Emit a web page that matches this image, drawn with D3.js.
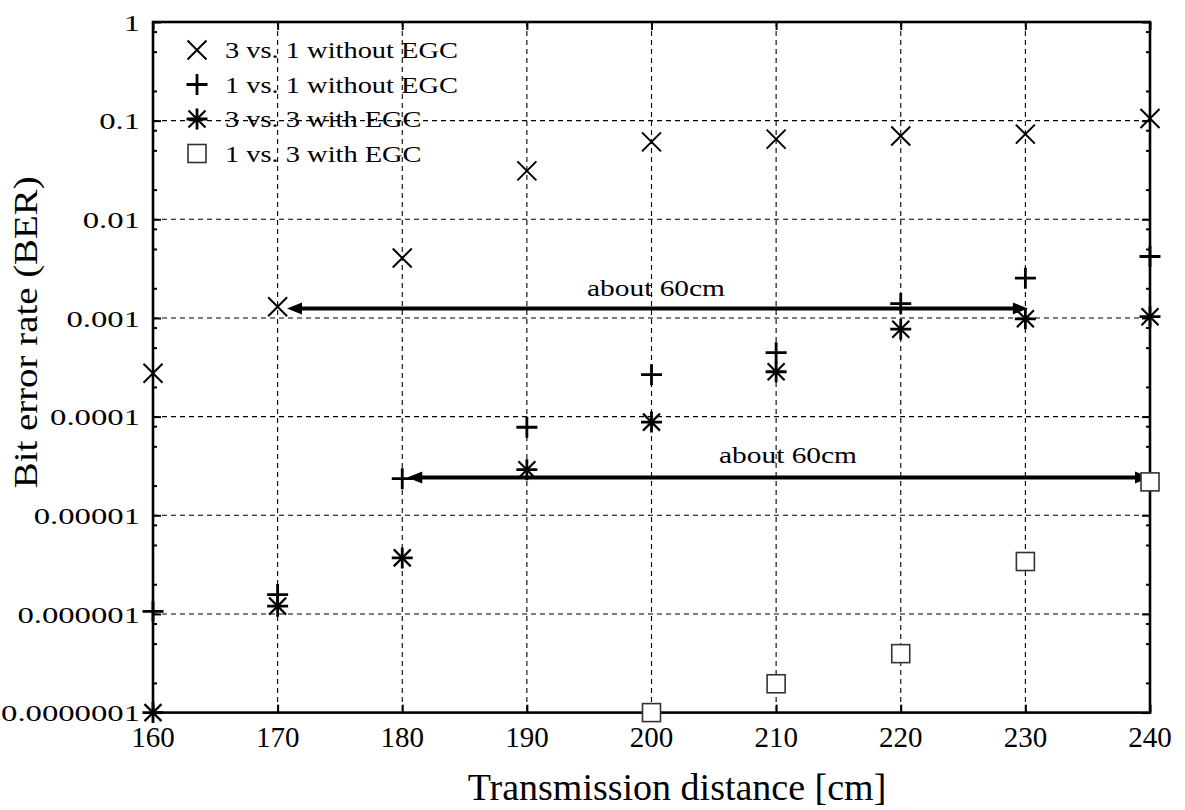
<!DOCTYPE html>
<html>
<head>
<meta charset="utf-8">
<script src="https://cdn.jsdelivr.net/npm/d3@7"></script>
<style>
  body { margin: 0; background: #fff; }
  svg { display: block; }
  text { font-family: "Liberation Serif", "Times New Roman", serif; fill: #000; }
</style>
</head>
<body>
<svg id="chart" width="1185" height="810"></svg>
<script>
// distances in cm
const distances = [160, 170, 180, 190, 200, 210, 220, 230, 240];
const ber3vs1 = [2.75e-4, 1.3e-3, 4.05e-3, 0.031, 0.061, 0.065, 0.07, 0.073, 0.105];
const ber1vs1 = [1.06e-6, 1.57e-6, 2.35e-5, 7.8e-5, 2.66e-4, 4.45e-4, 1.4e-3, 2.53e-3, 4.2e-3];
const ber3vs3 = [1e-7, 1.2e-6, 3.7e-6, 2.9e-5, 8.8e-5, 2.85e-4, 7.7e-4, 9.8e-4, 1.03e-3];
const dist1vs3 = [200, 210, 220, 230, 240];
const ber1vs3 = [1e-7, 1.96e-7, 3.96e-7, 3.4e-6, 2.18e-5];

const xTicks = [160, 170, 180, 190, 200, 210, 220, 230, 240];
const yTicks = [1, 0.1, 0.01, 0.001, 0.0001, 0.00001, 0.000001, 0.0000001];
const yTickLabels = ['1', '0.1', '0.01', '0.001', '0.0001', '0.00001', '0.000001', '0.0000001'];
const yMinorMult = [2, 5, 8];

const legendLabels = ['3 vs. 1 without EGC', '1 vs. 1 without EGC', '3 vs. 3 with EGC', '1 vs. 3 with EGC'];
const legendSymbols = ['cross', 'plus', 'star', 'square'];

// "about 60cm" arrows: [fromX, toX, y]
const arrows = [
  [170.75, 230.2, 1.25e-3],
  [180.4, 240, 2.42e-5]
];
const arrowLabel = 'about 60cm';

const width = 1185;
const height = 810;
const margin = { top: 22, right: 35, bottom: 97.4, left: 153 };

const svg = d3.select('#chart');

const x = d3.scaleLinear()
  .domain([160, 240])
  .range([margin.left, width - margin.right]);

const y = d3.scaleLog()
  .domain([1e-7, 1])
  .range([height - margin.bottom, margin.top]);

const x0 = x(160), x1 = x(240), y0 = y(1e-7), y1 = y(1);

// the text in the original is a wide serif, so stretch it sideways to fit
function fitWidth(textSel, target) {
  const len = textSel.node().getComputedTextLength();
  return target / len;
}

// minor tick values for the log axis
const yMinor = [];
yTicks.slice(1).forEach((t) => yMinorMult.forEach((m) => yMinor.push(t * m)));

// grid
const grid = svg.append('g').attr('class', 'grid')
  .attr('stroke', '#000').attr('stroke-width', 1.1).attr('stroke-dasharray', '5,4');
grid.selectAll('line.vx')
  .data(xTicks.slice(1, -1))
  .join('line')
  .attr('x1', (d) => x(d)).attr('x2', (d) => x(d))
  .attr('y1', y1).attr('y2', y0);
grid.selectAll('line.hy')
  .data(yTicks.slice(1, -1))
  .join('line')
  .attr('x1', x0).attr('x2', x1)
  .attr('y1', (d) => y(d)).attr('y2', (d) => y(d));

// inward ticks on all four sides
const tickAxis = (axis, tr) => {
  const g = svg.append('g').attr('transform', tr).call(axis);
  g.select('.domain').remove();
  g.selectAll('line').attr('stroke', '#000').attr('stroke-width', 2);
  g.selectAll('text').remove();
};
tickAxis(d3.axisRight(y).tickValues(yTicks).tickSize(8), `translate(${x0},0)`);
tickAxis(d3.axisRight(y).tickValues(yMinor).tickSize(4), `translate(${x0},0)`);
tickAxis(d3.axisLeft(y).tickValues(yTicks).tickSize(8), `translate(${x1},0)`);
tickAxis(d3.axisLeft(y).tickValues(yMinor).tickSize(4), `translate(${x1},0)`);
tickAxis(d3.axisTop(x).tickValues(xTicks).tickSize(8), `translate(0,${y0})`);
tickAxis(d3.axisBottom(x).tickValues(xTicks).tickSize(8), `translate(0,${y1})`);

// frame
svg.append('rect')
  .attr('x', x0).attr('y', y1)
  .attr('width', x1 - x0).attr('height', y0 - y1)
  .attr('fill', 'none').attr('stroke', '#000').attr('stroke-width', 2.6);

// tick labels
svg.append('g').selectAll('text')
  .data(xTicks)
  .join('text')
  .attr('x', (d) => x(d))
  .attr('y', 747)
  .attr('text-anchor', 'middle')
  .attr('font-size', 29)
  .text((d) => d);

const yLab = svg.append('g').selectAll('g')
  .data(yTicks)
  .join('g')
  .attr('transform', (d) => `translate(140,${y(d)})`);
const yLabText = yLab.append('text')
  .attr('dy', '0.36em')
  .attr('text-anchor', 'end')
  .attr('font-size', 24)
  .text((d, i) => yTickLabels[i]);
const ySx = fitWidth(yLabText.filter((d, i) => i === yTicks.length - 1), 139);
yLabText.attr('transform', `scale(${ySx},1)`);

// axis titles
svg.append('text')
  .attr('x', 677).attr('y', 800)
  .attr('text-anchor', 'middle')
  .attr('font-size', 38)
  .text('Transmission distance [cm]');

const yTitle = svg.append('g')
  .attr('transform', `translate(37,${(y(0.01) + y(0.00001)) / 2 - 35}) rotate(-90)`)
  .append('text')
  .attr('text-anchor', 'middle')
  .attr('font-size', 33)
  .text('Bit error rate (BER)');
yTitle.attr('transform', `scale(${fitWidth(yTitle, 312)},1)`);

// symbols
function drawSymbol(g, type, cx, cy) {
  const s = g.append('g').attr('transform', `translate(${cx},${cy})`)
    .attr('stroke', '#000').attr('fill', 'none');
  if (type === 'cross') {
    const r = 9.5;
    s.append('path').attr('stroke-width', 2)
      .attr('d', `M${-r},${-r}L${r},${r}M${-r},${r}L${r},${-r}`);
  } else if (type === 'plus') {
    const r = 10.5;
    s.append('path').attr('stroke-width', 2.8)
      .attr('d', `M${-r},0L${r},0M0,${-r}L0,${r}`);
  } else if (type === 'star') {
    const r = 10.5, d = 8.5;
    s.append('path').attr('stroke-width', 2.8)
      .attr('d', `M${-r},0L${r},0M0,${-r}L0,${r}`);
    s.append('path').attr('stroke-width', 2.2)
      .attr('d', `M${-d},${-d}L${d},${d}M${-d},${d}L${d},${-d}`);
  } else if (type === 'square') {
    s.append('rect').attr('x', -9).attr('y', -9).attr('width', 18).attr('height', 18)
      .attr('fill', '#fff').attr('stroke', '#333').attr('stroke-width', 1.6);
  }
}

// arrows
const arrowG = svg.append('g');
arrows.forEach(([a, b, v]) => {
  const yy = y(v), xa = x(a), xb = x(b);
  const hl = 15, hw = 6;
  arrowG.append('line')
    .attr('x1', xa + hl - 2).attr('x2', xb - hl + 2)
    .attr('y1', yy).attr('y2', yy)
    .attr('stroke', '#000').attr('stroke-width', 4);
  arrowG.append('path')
    .attr('d', `M${xa},${yy}L${xa + hl},${yy - hw}L${xa + hl},${yy + hw}Z`)
    .attr('fill', '#000');
  arrowG.append('path')
    .attr('d', `M${xb},${yy}L${xb - hl},${yy - hw}L${xb - hl},${yy + hw}Z`)
    .attr('fill', '#000');
});

// data markers
const series = [
  { xs: distances, ys: ber3vs1, sym: 'cross' },
  { xs: distances, ys: ber1vs1, sym: 'plus' },
  { xs: distances, ys: ber3vs3, sym: 'star' },
  { xs: dist1vs3, ys: ber1vs3, sym: 'square' }
];
const markG = svg.append('g');
series.forEach((s) => {
  s.xs.forEach((d, i) => drawSymbol(markG, s.sym, x(d), y(s.ys[i])));
});

// arrow labels
[[656, 296], [788, 463]].forEach(([lx, ly]) => {
  const t = svg.append('g').attr('transform', `translate(${lx},${ly})`)
    .append('text')
    .attr('text-anchor', 'middle').attr('font-size', 24).text(arrowLabel);
  t.attr('transform', `scale(${fitWidth(t, 138)},1)`);
});

// legend
const legend = svg.append('g');
let legSx = null;
legendLabels.forEach((lab, i) => {
  const cy = 50 + i * 34.5;
  drawSymbol(legend, legendSymbols[i], 197, cy);
  const t = legend.append('g').attr('transform', `translate(225,${cy + 8})`)
    .append('text')
    .attr('font-size', 24)
    .text(lab);
  if (legSx === null) legSx = fitWidth(t, 233);
  t.attr('transform', `scale(${legSx},1)`);
});
</script>
</body>
</html>
